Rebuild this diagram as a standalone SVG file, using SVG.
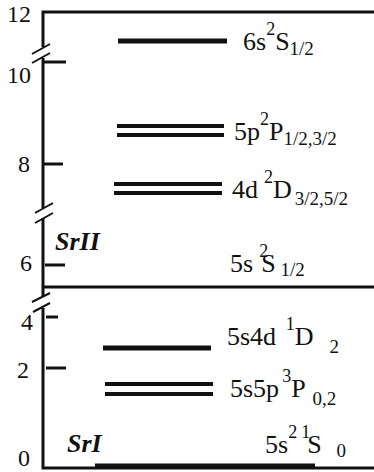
<svg xmlns="http://www.w3.org/2000/svg" width="374" height="472" viewBox="0 0 374 472">
<style>
.ax{stroke:#111;stroke-width:3;fill:none}
.tk{stroke:#111;stroke-width:3}
.br{stroke:#111;stroke-width:2}
.lv{stroke:#111;stroke-width:5}
.lv2{stroke:#111;stroke-width:4}
.f{font-family:'Liberation Serif','Times New Roman',Times,serif;fill:#111}
.t{font-size:24px}
.L{font-size:26px}
.s{font-size:19px}
.sp{font-size:18px}
.nm{font-size:26px;font-weight:bold;font-style:italic}
</style>
<rect width="374" height="472" fill="#fff"/>
<g id="axis">
<path class="ax" d="M374,12 H43 V47 M43,58 V208 M43,218 V287 H374 M43,287 V297 M43,308 V468 H374"/>
<line class="br" x1="32" y1="54" x2="50" y2="44"/>
<line class="br" x1="32" y1="63" x2="50" y2="53"/>
<line class="br" x1="35" y1="213" x2="53" y2="203"/>
<line class="br" x1="35" y1="223" x2="53" y2="213"/>
<line class="br" x1="32" y1="302" x2="50" y2="293"/>
<line class="br" x1="33" y1="312" x2="50" y2="303"/>
<line class="tk" x1="43" y1="62" x2="66" y2="62"/>
<line class="tk" x1="43" y1="164" x2="63" y2="164"/>
<line class="tk" x1="45" y1="265" x2="65" y2="265"/>
<line class="tk" x1="46" y1="317" x2="58" y2="317"/>
<line class="tk" x1="46" y1="368" x2="66" y2="368"/>
<text class="f t" x="7" y="22">12</text>
<text class="f t" x="7" y="83">10</text>
<text class="f t" x="18" y="172">8</text>
<text class="f t" x="20" y="271">6</text>
<text class="f t" x="21" y="330">4</text>
<text class="f t" x="17" y="378">2</text>
<text class="f t" x="18" y="466">0</text>
<text class="f nm" x="55" y="250">SrII</text>
<text class="f nm" x="67" y="452">SrI</text>
</g>
<g id="level-6s">
<line class="lv" x1="118" y1="41" x2="227" y2="41"/>
<text class="f L" x="243" y="50">6s<tspan class="sp" dy="-15">2</tspan><tspan dy="15">S</tspan><tspan class="s" dy="5">1/2</tspan></text>
</g>
<g id="level-5p">
<line class="lv2" x1="117" y1="126" x2="224" y2="126"/>
<line class="lv2" x1="117" y1="135" x2="224" y2="135"/>
<text class="f L" x="234" y="140">5p<tspan class="sp" dy="-15">2</tspan><tspan dy="15">P</tspan><tspan class="s" dy="5">1/2,3/2</tspan></text>
</g>
<g id="level-4d">
<line class="lv2" x1="114" y1="184" x2="222" y2="184"/>
<line class="lv2" x1="114" y1="193" x2="222" y2="193"/>
<text class="f L" x="232" y="198">4d<tspan class="sp" dx="6" dy="-15">2</tspan><tspan dy="15">D</tspan><tspan class="s" dx="3" dy="7">3/2,5/2</tspan></text>
</g>
<g id="level-5s-ion">
<text class="f L" x="230" y="272">5s<tspan class="sp" dx="6" dy="-15">2</tspan><tspan dx="-7" dy="15">S</tspan><tspan class="s" dx="5" dy="4">1/2</tspan></text>
</g>
<g id="level-5s4d">
<line class="lv" x1="103" y1="348" x2="211" y2="348"/>
<text class="f L" x="227" y="345">5s4d <tspan class="sp" dx="3" dy="-15">1</tspan><tspan dy="15">D</tspan><tspan class="s" dx="16" dy="8">2</tspan></text>
</g>
<g id="level-5s5p">
<line class="lv2" x1="105" y1="384" x2="213" y2="384"/>
<line class="lv2" x1="105" y1="394" x2="213" y2="394"/>
<text class="f L" x="230" y="397">5s5p<tspan class="sp" dx="3" dy="-15">3</tspan><tspan dy="15">P</tspan><tspan class="s" dx="7" dy="8">0,2</tspan></text>
</g>
<g id="level-ground">
<line class="lv" x1="95" y1="466" x2="315" y2="466"/>
<text class="f L" x="265" y="453">5s<tspan class="sp" dy="-15">2</tspan><tspan class="sp" dx="4">1</tspan><tspan dx="-3" dy="15">S</tspan><tspan class="s" dx="15" dy="4">0</tspan></text>
</g>
</svg>
